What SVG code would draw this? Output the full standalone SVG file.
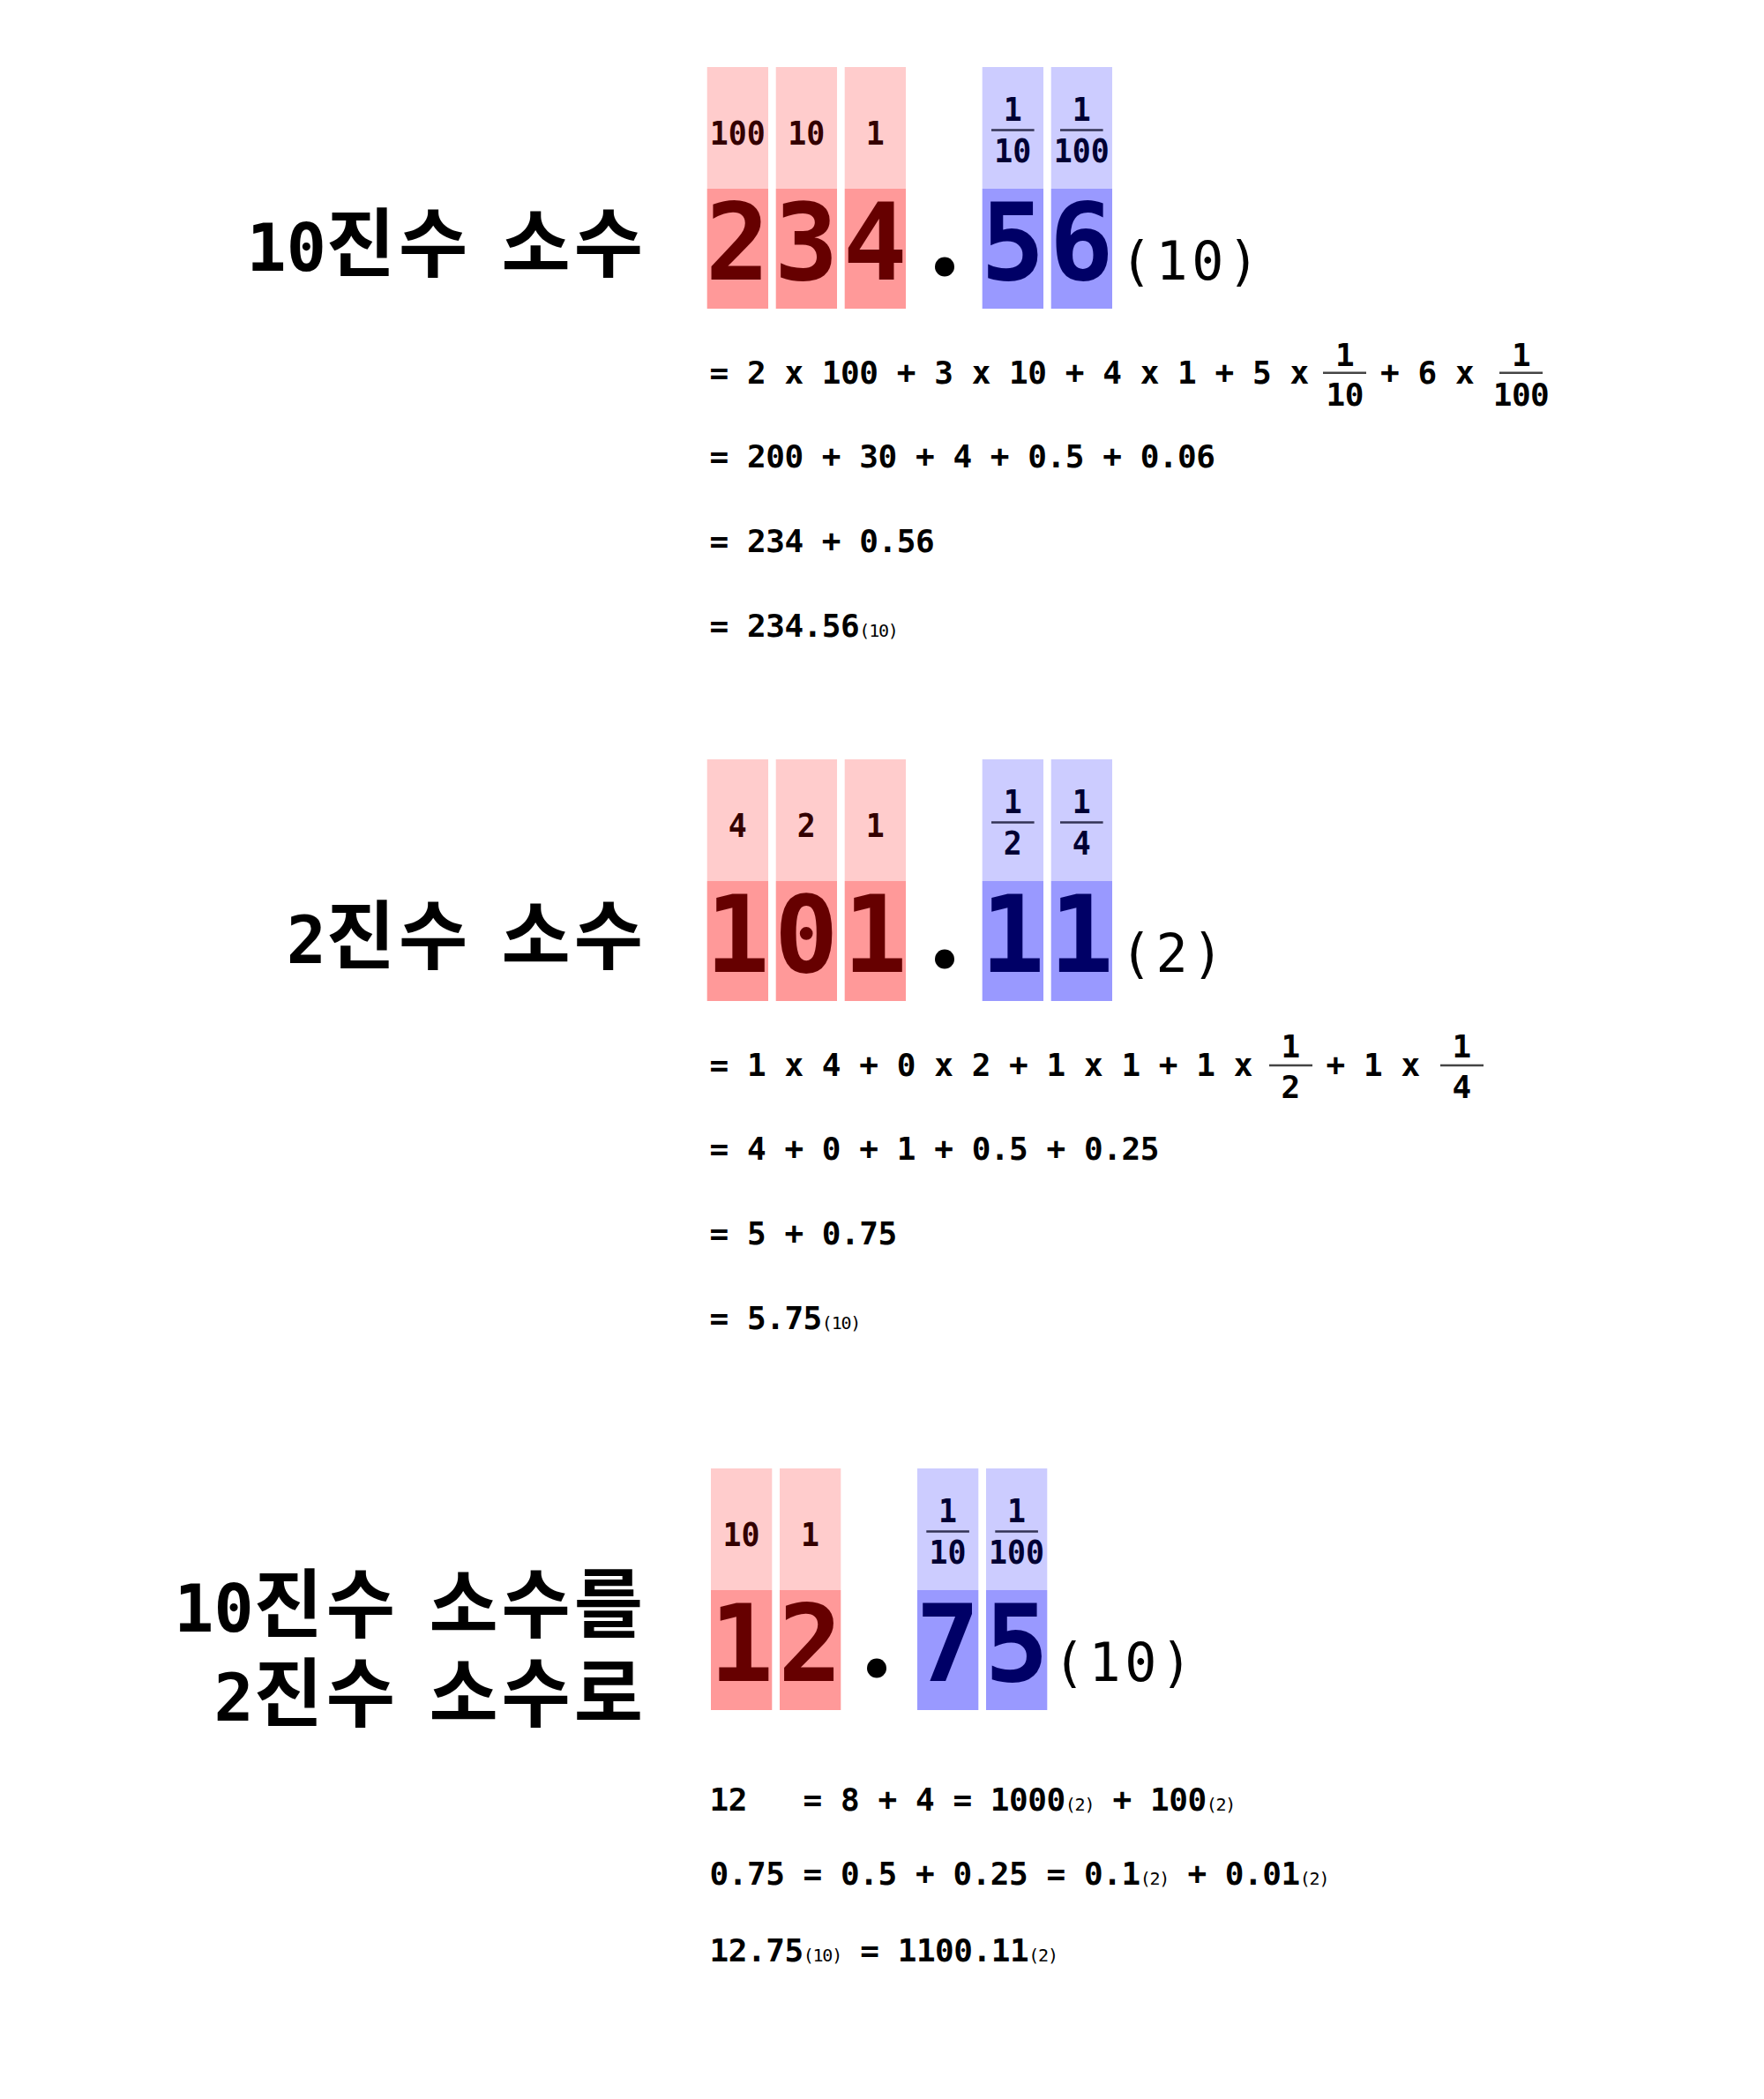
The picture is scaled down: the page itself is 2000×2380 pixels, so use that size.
<svg xmlns="http://www.w3.org/2000/svg" width="2000" height="2380" viewBox="0 0 2000 2380">
<defs>
<style>
text { font-family: "DejaVu Sans Mono", "Noto Sans CJK KR", monospace; }
.title { font-size: 85px; font-weight: bold; text-anchor: end; fill: #000; letter-spacing: 4px; }
.td { font-size: 75px; letter-spacing: 0px; }
.ts { font-size: 57px; letter-spacing: 0px; }
.big { font-size: 121px; font-weight: bold; text-anchor: middle; }
.lbl { font-size: 38px; font-weight: bold; text-anchor: middle; }
.eq { font-size: 36px; font-weight: bold; letter-spacing: -0.45px; fill: #000; }
.fr { text-anchor: middle; }
.sub { font-size: 20px; font-weight: normal; letter-spacing: -1.2px; }
.base { font-size: 60px; font-weight: normal; letter-spacing: 4.5px; fill: #000; }
.rt { fill: #ffcccc; }
.rb { fill: #ff9999; }
.bt { fill: #ccccff; }
.bb { fill: #9999ff; }
.rd { fill: #660000; }
.bd { fill: #000066; }
.rl { fill: #330000; }
.bl { fill: #000033; }
.hbar { stroke: #333355; stroke-width: 2.5; }
.ebar { stroke: #444444; stroke-width: 2.5; }
</style>
</defs>
<rect width="2000" height="2380" fill="#ffffff"/>

<!-- Section 1 -->
<g id="sec1-title"><text class="title" x="733" y="307"><tspan class="td">10</tspan>진수<tspan class="ts" xml:space="preserve"> </tspan>소수</text></g>
<g id="sec1-number">
  <rect class="rt" x="801.7" y="76" width="69.3" height="138"/>
  <rect class="rt" x="879.7" y="76" width="69.3" height="138"/>
  <rect class="rt" x="957.7" y="76" width="69.3" height="138"/>
  <rect class="bt" x="1113.7" y="76" width="69.3" height="138"/>
  <rect class="bt" x="1191.7" y="76" width="69.3" height="138"/>
  <rect class="rb" x="801.7" y="214" width="69.3" height="136"/>
  <rect class="rb" x="879.7" y="214" width="69.3" height="136"/>
  <rect class="rb" x="957.7" y="214" width="69.3" height="136"/>
  <rect class="bb" x="1113.7" y="214" width="69.3" height="136"/>
  <rect class="bb" x="1191.7" y="214" width="69.3" height="136"/>
  <text class="lbl rl" x="836.3" y="164" textLength="63" lengthAdjust="spacingAndGlyphs">100</text>
  <text class="lbl rl" x="914.3" y="164" textLength="42" lengthAdjust="spacingAndGlyphs">10</text>
  <text class="lbl rl" x="992.3" y="164" textLength="21" lengthAdjust="spacingAndGlyphs">1</text>
  <text class="lbl bl" x="1148.3" y="137" textLength="21" lengthAdjust="spacingAndGlyphs">1</text>
  <line class="hbar" x1="1124" y1="147.5" x2="1172.6" y2="147.5"/>
  <text class="lbl bl" x="1148.3" y="183.5" textLength="42" lengthAdjust="spacingAndGlyphs">10</text>
  <text class="lbl bl" x="1226.3" y="137" textLength="21" lengthAdjust="spacingAndGlyphs">1</text>
  <line class="hbar" x1="1202" y1="147.5" x2="1250.6" y2="147.5"/>
  <text class="lbl bl" x="1226.3" y="183.5" textLength="63" lengthAdjust="spacingAndGlyphs">100</text>
  <text class="big rd" x="836.3" y="317">2</text>
  <text class="big rd" x="914.3" y="317">3</text>
  <text class="big rd" x="992.3" y="317">4</text>
  <circle cx="1071" cy="302.5" r="11" fill="#000"/>
  <text class="big bd" x="1148.3" y="317">5</text>
  <text class="big bd" x="1226.3" y="317">6</text>
  <text class="base" x="1270" y="317">(10)</text>
</g>
<g id="sec1-equations">
  <text class="eq" x="804.5" y="435">= 2 x 100 + 3 x 10 + 4 x 1 + 5 x</text>
  <text class="eq fr" x="1524.7" y="415">1</text>
  <line class="ebar" x1="1500" y1="422.7" x2="1549" y2="422.7"/>
  <text class="eq fr" x="1524.7" y="460">10</text>
  <text class="eq" x="1565" y="435">+ 6 x</text>
  <text class="eq fr" x="1724.5" y="415">1</text>
  <line class="ebar" x1="1700" y1="422.7" x2="1749" y2="422.7"/>
  <text class="eq fr" x="1724.5" y="460">100</text>
  <text class="eq" x="804.5" y="530">= 200 + 30 + 4 + 0.5 + 0.06</text>
  <text class="eq" x="804.5" y="626">= 234 + 0.56</text>
  <text class="eq" x="804.5" y="722">= 234.56<tspan class="sub">(10)</tspan></text>
</g>

<!-- Section 2 -->
<g id="sec2-title"><text class="title" x="733" y="1092"><tspan class="td">2</tspan>진수<tspan class="ts" xml:space="preserve"> </tspan>소수</text></g>
<g id="sec2-number">
  <rect class="rt" x="801.7" y="861" width="69.3" height="138"/>
  <rect class="rt" x="879.7" y="861" width="69.3" height="138"/>
  <rect class="rt" x="957.7" y="861" width="69.3" height="138"/>
  <rect class="bt" x="1113.7" y="861" width="69.3" height="138"/>
  <rect class="bt" x="1191.7" y="861" width="69.3" height="138"/>
  <rect class="rb" x="801.7" y="999" width="69.3" height="136"/>
  <rect class="rb" x="879.7" y="999" width="69.3" height="136"/>
  <rect class="rb" x="957.7" y="999" width="69.3" height="136"/>
  <rect class="bb" x="1113.7" y="999" width="69.3" height="136"/>
  <rect class="bb" x="1191.7" y="999" width="69.3" height="136"/>
  <text class="lbl rl" x="836.3" y="949" textLength="21" lengthAdjust="spacingAndGlyphs">4</text>
  <text class="lbl rl" x="914.3" y="949" textLength="21" lengthAdjust="spacingAndGlyphs">2</text>
  <text class="lbl rl" x="992.3" y="949" textLength="21" lengthAdjust="spacingAndGlyphs">1</text>
  <text class="lbl bl" x="1148.3" y="922" textLength="21" lengthAdjust="spacingAndGlyphs">1</text>
  <line class="hbar" x1="1124" y1="932.5" x2="1172.6" y2="932.5"/>
  <text class="lbl bl" x="1148.3" y="968.5" textLength="21" lengthAdjust="spacingAndGlyphs">2</text>
  <text class="lbl bl" x="1226.3" y="922" textLength="21" lengthAdjust="spacingAndGlyphs">1</text>
  <line class="hbar" x1="1202" y1="932.5" x2="1250.6" y2="932.5"/>
  <text class="lbl bl" x="1226.3" y="968.5" textLength="21" lengthAdjust="spacingAndGlyphs">4</text>
  <text class="big rd" x="836.3" y="1102">1</text>
  <text class="big rd" x="914.3" y="1102">0</text>
  <text class="big rd" x="992.3" y="1102">1</text>
  <circle cx="1071" cy="1087.5" r="11" fill="#000"/>
  <text class="big bd" x="1148.3" y="1102">1</text>
  <text class="big bd" x="1226.3" y="1102">1</text>
  <text class="base" x="1270" y="1102">(2)</text>
</g>
<g id="sec2-equations">
  <text class="eq" x="804.5" y="1220">= 1 x 4 + 0 x 2 + 1 x 1 + 1 x</text>
  <text class="eq fr" x="1463" y="1199">1</text>
  <line class="ebar" x1="1439" y1="1208" x2="1488" y2="1208"/>
  <text class="eq fr" x="1463" y="1245">2</text>
  <text class="eq" x="1503.5" y="1220">+ 1 x</text>
  <text class="eq fr" x="1657" y="1199">1</text>
  <line class="ebar" x1="1633" y1="1208" x2="1682" y2="1208"/>
  <text class="eq fr" x="1657" y="1245">4</text>
  <text class="eq" x="804.5" y="1315">= 4 + 0 + 1 + 0.5 + 0.25</text>
  <text class="eq" x="804.5" y="1411">= 5 + 0.75</text>
  <text class="eq" x="804.5" y="1507">= 5.75<tspan class="sub">(10)</tspan></text>
</g>

<!-- Section 3 -->
<g id="sec3-title">
  <text class="title" x="733" y="1850"><tspan class="td">10</tspan>진수<tspan class="ts" xml:space="preserve"> </tspan>소수를</text>
  <text class="title" x="733" y="1951"><tspan class="td">2</tspan>진수<tspan class="ts" xml:space="preserve"> </tspan>소수로</text>
</g>
<g id="sec3-number">
  <rect class="rt" x="806" y="1665" width="69.3" height="138"/>
  <rect class="rt" x="884" y="1665" width="69.3" height="138"/>
  <rect class="bt" x="1040" y="1665" width="69.3" height="138"/>
  <rect class="bt" x="1118" y="1665" width="69.3" height="138"/>
  <rect class="rb" x="806" y="1803" width="69.3" height="136"/>
  <rect class="rb" x="884" y="1803" width="69.3" height="136"/>
  <rect class="bb" x="1040" y="1803" width="69.3" height="136"/>
  <rect class="bb" x="1118" y="1803" width="69.3" height="136"/>
  <text class="lbl rl" x="840.6" y="1753" textLength="42" lengthAdjust="spacingAndGlyphs">10</text>
  <text class="lbl rl" x="918.6" y="1753" textLength="21" lengthAdjust="spacingAndGlyphs">1</text>
  <text class="lbl bl" x="1074.6" y="1726" textLength="21" lengthAdjust="spacingAndGlyphs">1</text>
  <line class="hbar" x1="1050.3" y1="1736.5" x2="1098.9" y2="1736.5"/>
  <text class="lbl bl" x="1074.6" y="1772.5" textLength="42" lengthAdjust="spacingAndGlyphs">10</text>
  <text class="lbl bl" x="1152.6" y="1726" textLength="21" lengthAdjust="spacingAndGlyphs">1</text>
  <text class="lbl bl" x="1152.6" y="1772.5" textLength="63" lengthAdjust="spacingAndGlyphs">100</text>
  <line class="hbar" x1="1128.3" y1="1736.5" x2="1176.9" y2="1736.5"/>
  <text class="big rd" x="840.6" y="1906">1</text>
  <text class="big rd" x="918.6" y="1906">2</text>
  <circle cx="994" cy="1891.5" r="11" fill="#000"/>
  <text class="big bd" x="1074.6" y="1906">7</text>
  <text class="big bd" x="1152.6" y="1906">5</text>
  <text class="base" x="1194" y="1906">(10)</text>
</g>
<g id="sec3-equations">
  <text class="eq" x="804.5" y="2053" xml:space="preserve">12   = 8 + 4 = 1000<tspan class="sub">(2)</tspan> + 100<tspan class="sub">(2)</tspan></text>
  <text class="eq" x="804.5" y="2137" xml:space="preserve">0.75 = 0.5 + 0.25 = 0.1<tspan class="sub">(2)</tspan> + 0.01<tspan class="sub">(2)</tspan></text>
  <text class="eq" x="804.5" y="2224" xml:space="preserve">12.75<tspan class="sub">(10)</tspan> = 1100.11<tspan class="sub">(2)</tspan></text>
</g>
</svg>
